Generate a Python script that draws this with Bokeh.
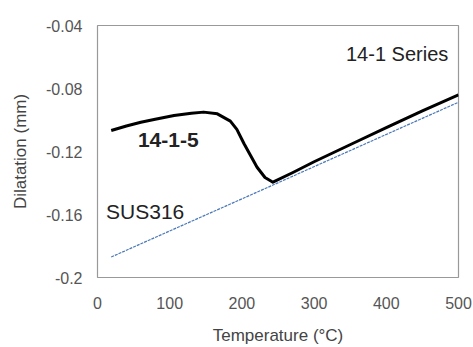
from bokeh.plotting import figure
from bokeh.models import FixedTicker, Range1d, ColumnDataSource
from bokeh.embed import file_html
from bokeh.resources import INLINE
from bokeh.core.properties import value

# Data
alloy_temp = [19, 40, 60, 80, 106, 130, 147, 166, 184, 193, 203, 212, 221, 232, 243,
              270, 300, 360, 400, 450, 500]
alloy_dil = [-0.1067, -0.1038, -0.1014, -0.0995, -0.0971, -0.0957, -0.0950, -0.0961,
             -0.1007, -0.1060, -0.1151, -0.1226, -0.1300, -0.1365, -0.1395,
             -0.1335, -0.1265, -0.1135, -0.1048, -0.0942, -0.0840]
sus_temp = [19, 243, 500]
sus_dil = [-0.187, -0.1413, -0.0887]

x_ticks = [0, 100, 200, 300, 400, 500]
y_ticks = [-0.2, -0.16, -0.12, -0.08, -0.04]
y_tick_labels = ["-0.2", "-0.16", "-0.12", "-0.08", "-0.04"]

series_text = ["14-1 Series"]
series_x = [415]
series_y = [-0.058]
sus_text = ["SUS316"]
sus_x = [66]
sus_y = [-0.158]
bold_text = ["14-1-5"]
bold_x = [98]
bold_y = [-0.113]

FONT = "Liberation Sans"

p = figure(width=473, height=347, output_backend="svg", toolbar_location=None,
           x_range=Range1d(0, 500), y_range=Range1d(-0.2, -0.04),
           min_border_left=97, min_border_top=25, min_border_right=15, min_border_bottom=70)
p.background_fill_color = "white"
p.border_fill_color = "white"
p.outline_line_color = "#999999"
p.outline_line_width = 1.2
p.xgrid.visible = False
p.ygrid.visible = False

p.xaxis.ticker = FixedTicker(ticks=x_ticks)
p.yaxis.ticker = FixedTicker(ticks=y_ticks)
p.yaxis.major_label_overrides = {t: l for t, l in zip(y_ticks, y_tick_labels)}

for ax in (p.xaxis, p.yaxis):
    ax.axis_line_color = None
    ax.major_tick_line_color = None
    ax.minor_tick_line_color = None
    ax.major_tick_out = 0
    ax.major_tick_in = 0
    ax.minor_tick_out = 0
    ax.major_label_text_font = FONT
    ax.major_label_text_font_size = "16px"
    ax.major_label_text_color = "#555555"
    ax.axis_label_text_font = FONT
    ax.axis_label_text_font_size = "17px"
    ax.axis_label_text_font_style = "normal"
    ax.axis_label_text_color = "#444444"

p.xaxis.axis_label = "Temperature (\u00b0C)"
p.yaxis.axis_label = "Dilatation (mm)"
p.xaxis.major_label_standoff = 19
p.xaxis.axis_label_standoff = 14
p.yaxis.major_label_standoff = 15
p.yaxis.axis_label_standoff = 13

p.line(sus_temp, sus_dil, line_color="#4a78b8", line_width=1.2, line_dash="3 1")
p.line(alloy_temp, alloy_dil, line_color="black", line_width=3, line_join="round")

src = ColumnDataSource(dict(x=series_x, y=series_y, t=series_text))
p.text("x", "y", text="t", source=src, text_font=value(FONT), text_font_size=value("20px"),
       text_color="#222222", text_align="center", text_baseline="middle")
src2 = ColumnDataSource(dict(x=sus_x, y=sus_y, t=sus_text))
p.text("x", "y", text="t", source=src2, text_font=value(FONT), text_font_size=value("21px"),
       text_color="#222222", text_align="center", text_baseline="middle")
src3 = ColumnDataSource(dict(x=bold_x, y=bold_y, t=bold_text))
p.text("x", "y", text="t", source=src3, text_font=value(FONT), text_font_size=value("21px"),
       text_font_style="bold", text_color="#222222", text_align="center",
       text_baseline="middle")

open("out.html", "w").write(file_html(p, INLINE))
